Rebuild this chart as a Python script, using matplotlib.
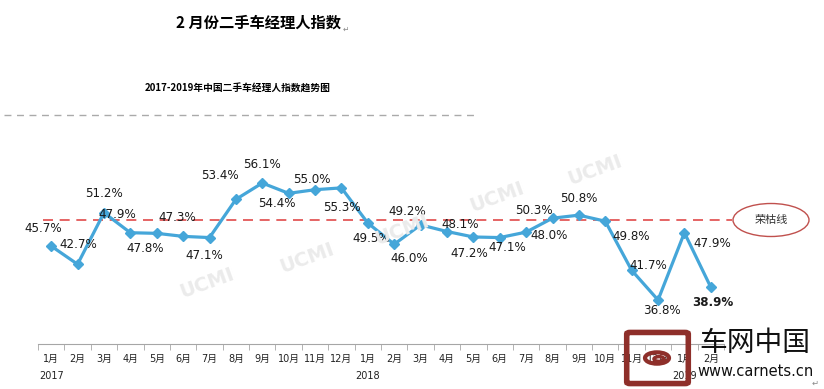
import numpy as np
import matplotlib
matplotlib.use("Agg")
import matplotlib.pyplot as plt
from matplotlib.patches import Ellipse, FancyBboxPatch, Circle

plt.rcParams['font.family'] = ['DejaVu Sans', 'Noto Sans CJK SC']

# data
months = ['1月', '2月', '3月', '4月', '5月', '6月', '7月', '8月', '9月', '10月', '11月', '12月',
          '1月', '2月', '3月', '4月', '5月', '6月', '7月', '8月', '9月', '10月', '11月', '12月',
          '1月', '2月']
years = ['2017', '2018', '2019']
year_start = [0, 12, 24]
index_values = [45.7, 42.7, 51.2, 47.9, 47.8, 47.3, 47.1, 53.4, 56.1, 54.4, 55.0, 55.3,
                49.5, 46.0, 49.2, 48.1, 47.2, 47.1, 48.0, 50.3, 50.8, 49.8, 41.7, 36.8,
                47.9, 38.9]
threshold = 50.0

# label offsets (pixels, right / down) copied from the picture layout
label_dx = [-8, 1, 0, -13, -12, -6, -5, -16, 0, -12, -3, 1,
            3, 15, -13, 13, -4, 8, 23, -19, 0, 26, 17, 4, 28, 2]
label_dy = [-18, -20, -19, -18, 15, -19, 18, -24, -19, 10, -10, 20,
            15, 14, -13, -7, 17, 10, 3, -8, -17, 15, -5, 11, 11, 15]

W, H = 824, 389
fig = plt.figure(figsize=(W / 100, H / 100), dpi=100)
fig.patch.set_facecolor('white')


def fx(px):
    return px / W


def fy(py):
    return 1 - py / H


# axes: x from 38 to 724 px, y from 130 to 344 px
ax = fig.add_axes([fx(38), fy(344), (724 - 38) / W, (344 - 130) / H])
ax.set_xlim(-0.5, len(months) - 0.5)
ax.set_ylim(29.54, 64.85)
ax.set_facecolor('none')

x = np.arange(len(months))

# watermark
for wx, wy in [(207, 283), (307, 258), (402, 230), (497, 197), (595, 170)]:
    fig.text(fx(wx), fy(wy), 'UCMI', fontsize=14, fontweight='bold', color='#EBEBEB',
             rotation=20, ha='center', va='center', zorder=0)

ax.plot([-0.3, 25.8], [threshold, threshold], color='#E04A4A', lw=1.2,
        dashes=(6, 4), clip_on=False, zorder=2)

ax.plot(x, index_values, color='#45A6D9', lw=2.3, marker='D', markersize=5,
        zorder=3, clip_on=False)

for i, v in enumerate(index_values):
    ax.annotate(f'{v:.1f}%', (x[i], v), xytext=(label_dx[i], -label_dy[i]),
                textcoords='offset pixels', ha='center', va='center',
                fontsize=8.6, color='#1a1a1a',
                fontweight='bold' if i == len(index_values) - 1 else 'normal',
                zorder=4)

for s in ['top', 'left', 'right']:
    ax.spines[s].set_visible(False)
ax.spines['bottom'].set_color('#A6A6A6')
ax.set_yticks([])
ax.set_xticks(x)
ax.set_xticklabels(months, fontsize=7, color='#222222')
ax.tick_params(axis='x', which='major', length=0, pad=7)
ax.set_xticks(np.arange(-0.5, len(months)), minor=True)
ax.tick_params(axis='x', which='minor', length=4, color='#A6A6A6')

for yr, start in zip(years, year_start):
    ax.text(start, -0.15, yr, transform=ax.get_xaxis_transform(), fontsize=7,
            color='#222222', ha='center', va='center')

# titles
fig.text(fx(258), fy(23), '2 月份二手车经理人指数', fontsize=11, fontweight='bold',
         family=['Noto Sans CJK SC'], ha='center', va='center')
fig.text(fx(346), fy(29), '\u21b5', fontsize=5.5, color='#888888', ha='center', va='center')
fig.text(fx(238), fy(89), '2017-2019年中国二手车经理人指数趋势图', fontsize=7.0,
         fontweight='bold', family=['Noto Sans CJK SC'], ha='center', va='center')
fig.add_artist(plt.Line2D([fx(4), fx(478)], [fy(115), fy(115)], color='#AAAAAA',
                          lw=1.0, dashes=(5, 4)))

# 荣枯线 label
fig.add_artist(Ellipse((fx(771), fy(220)), 76 / W, 33 / H, transform=fig.transFigure,
                       facecolor='white', edgecolor='#C0504D', lw=1.0))
fig.text(fx(771), fy(220), '荣枯线', fontsize=8, color='#333333',
         family=['Noto Sans CJK SC'], ha='center', va='center')

# logo
fig.add_artist(FancyBboxPatch((fx(630), fy(382)), 55 / W, 48 / H,
                              boxstyle='round,pad=0.004', transform=fig.transFigure,
                              facecolor='none', edgecolor='#8E2F2A', lw=4))
fig.add_artist(Circle((fx(657), fy(358)), 12 / W, transform=fig.transFigure,
                      facecolor='none', edgecolor='#8E2F2A', lw=3))
fig.add_artist(Circle((fx(659), fy(359)), 5 / W, transform=fig.transFigure,
                      facecolor='none', edgecolor='#8E2F2A', lw=2.5))
fig.text(fx(755), fy(343), '车网中国', fontsize=20, color='#111111',
         family=['Noto Sans CJK SC'], ha='center', va='center')
fig.text(fx(756), fy(372), 'www.carnets.cn', fontsize=10.5, color='#111111',
         ha='center', va='center')
fig.text(fx(815), fy(383), '\u21b5', fontsize=6, color='#888888', ha='center', va='center')

fig.savefig('out.png', dpi=100)
